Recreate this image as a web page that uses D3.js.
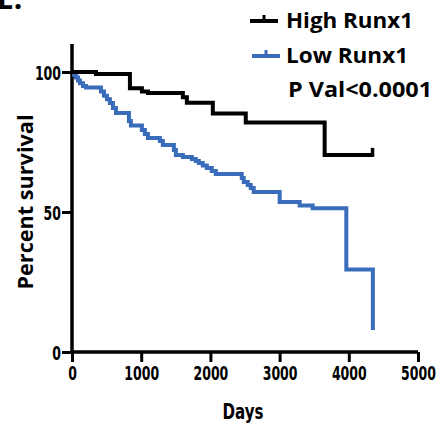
<!DOCTYPE html>
<html>
<head>
<meta charset="utf-8">
<script src="https://cdn.jsdelivr.net/npm/d3@7"></script>
<style>
  body { margin: 0; background: #fff; }
  .tick text, .cond { font-family: "DejaVu Sans Condensed", "DejaVu Sans", sans-serif; font-stretch: condensed; font-weight: bold; }
</style>
</head>
<body>
<div id="chart"></div>
<script>
// Kaplan-Meier style data (days, percent survival)
var highDays = [0, 346, 837, 1010, 1097, 1602, 1660, 2035, 2511, 3651, 4343];
var highSurv = [100, 99.3, 94.2, 93, 92.5, 91, 89, 85.2, 82, 70.4, 70.4];

var lowDays = [0, 29, 58, 87, 115, 159, 202, 418, 462, 505, 548, 592, 635, 823, 851, 1010, 1053, 1097,
               1270, 1313, 1472, 1501, 1602, 1732, 1789, 1833, 1890, 1948, 2020, 2078, 2453, 2482,
               2540, 2583, 2626, 3001, 3290, 3478, 3964, 4348];
var lowSurv = [100, 99, 98, 97, 96, 95, 94.5, 93, 91.5, 90.3, 88.9, 87.1, 85.4, 82.5, 80.9, 79.3, 77.9, 76.4,
               75.4, 73.9, 72.1, 70.4, 69.6, 68.9, 68.2, 67.5, 66.6, 65.7, 64.6, 63.6, 62.1, 60.7,
               59.6, 58.6, 57.1, 53.6, 52.3, 51.3, 29.5, 7.9];

var censorHigh = [[4343, 70.4]];

var xTicks = [0, 1000, 2000, 3000, 4000, 5000];
var yTicks = [0, 50, 100];
var legendLabels = ["High Runx1", "Low Runx1"];
var pText = "P Val<0.0001";
var colors = ["#000000", "#3a6cbc"];

var W = 443, H = 427;

var svg = d3.select("#chart").append("svg")
    .attr("width", W)
    .attr("height", H);

var x = d3.scaleLinear().domain([0, 5000]).range([72, 418]);
var y = d3.scaleLinear().domain([0, 110]).range([352, 44]);

// the panel letter, cut off at the top like in the figure
svg.append("text")
    .attr("x", -3)
    .attr("y", 9)
    .style("font-family", "Open Sans, sans-serif")
    .style("font-weight", "bold")
    .style("font-size", "30px")
    .text("E.");

var line = d3.line()
    .x(function(d) { return x(d[0]); })
    .y(function(d) { return y(d[1]); })
    .curve(d3.curveStepAfter);

var highData = highDays.map(function(d, i) { return [d, highSurv[i]]; });
var lowData = lowDays.map(function(d, i) { return [d, lowSurv[i]]; });

// axes
var xAxis = d3.axisBottom(x).tickValues(xTicks).tickFormat(d3.format("d"))
    .tickSize(10).tickSizeOuter(0).tickPadding(4);
var yAxis = d3.axisLeft(y).tickValues(yTicks).tickFormat(d3.format("d"))
    .tickSize(10).tickSizeOuter(0).tickPadding(1);

var gx = svg.append("g")
    .attr("transform", "translate(0," + y(0) + ")")
    .call(xAxis);
gx.select(".domain").attr("d", "M" + x(0) + ",0H" + x(5000));

var gy = svg.append("g")
    .attr("transform", "translate(" + x(0) + ",0)")
    .call(yAxis);
gy.select(".domain").attr("d", "M0," + y(0) + "V" + y(110));

svg.selectAll(".domain").attr("stroke", "#000").attr("stroke-width", 3.5);
svg.selectAll(".tick line").attr("stroke", "#000").attr("stroke-width", 3);
// narrow bold digits, like the condensed face of the figure
svg.selectAll(".tick text")
    .style("font-size", "20px")
    .attr("fill", "#000")
    .attr("textLength", function(d) { return String(d).length * 8.7; })
    .attr("lengthAdjust", "spacingAndGlyphs");
gy.selectAll(".tick text").attr("dy", "0.36em");

// curves
svg.append("path")
    .datum(lowData)
    .attr("fill", "none")
    .attr("stroke", colors[1])
    .attr("stroke-width", 4)
    .attr("d", line);

svg.append("path")
    .datum(highData)
    .attr("fill", "none")
    .attr("stroke", colors[0])
    .attr("stroke-width", 4)
    .attr("d", line);

svg.selectAll(".censor")
    .data(censorHigh)
    .enter().append("line")
    .attr("class", "censor")
    .attr("x1", function(d) { return x(d[0]); })
    .attr("x2", function(d) { return x(d[0]); })
    .attr("y1", function(d) { return y(d[1]) + 2; })
    .attr("y2", function(d) { return y(d[1]) - 7; })
    .attr("stroke", "#000")
    .attr("stroke-width", 3.5);

// axis titles
svg.append("text")
    .attr("transform", "translate(33,202) rotate(-90)")
    .attr("text-anchor", "middle")
    .attr("textLength", 175)
    .attr("lengthAdjust", "spacingAndGlyphs")
    .style("font-family", "Open Sans, sans-serif")
    .style("font-weight", "bold")
    .style("font-size", "22px")
    .text("Percent survival");

svg.append("text")
    .attr("class", "cond")
    .attr("x", 243)
    .attr("y", 419)
    .attr("text-anchor", "middle")
    .attr("textLength", 41)
    .attr("lengthAdjust", "spacingAndGlyphs")
    .style("font-size", "21px")
    .text("Days");

// legend
var legendWidths = [127, 122];
var legend = svg.selectAll(".legend")
    .data(legendLabels)
    .enter().append("g")
    .attr("class", "legend")
    .attr("transform", function(d, i) { return "translate(" + (250 + i * 2) + "," + (21 + i * 35) + ")"; });

legend.append("line")
    .attr("x1", 0).attr("x2", 28).attr("y1", 0).attr("y2", 0)
    .attr("stroke", function(d, i) { return colors[i]; })
    .attr("stroke-width", 4);
legend.append("line")
    .attr("x1", 14).attr("x2", 14).attr("y1", 0).attr("y2", -6)
    .attr("stroke", function(d, i) { return colors[i]; })
    .attr("stroke-width", 3);
legend.append("text")
    .attr("x", function(d, i) { return 36 - i * 2; })
    .attr("y", 7)
    .attr("textLength", function(d, i) { return legendWidths[i]; })
    .attr("lengthAdjust", "spacingAndGlyphs")
    .style("font-family", "Open Sans, sans-serif")
    .style("font-weight", "bold")
    .style("font-size", "22px")
    .text(function(d) { return d; });

svg.append("text")
    .attr("x", 288)
    .attr("y", 97)
    .attr("textLength", 144)
    .attr("lengthAdjust", "spacingAndGlyphs")
    .style("font-family", "Open Sans, sans-serif")
    .style("font-weight", "bold")
    .style("font-size", "22px")
    .text(pText);
</script>
</body>
</html>
